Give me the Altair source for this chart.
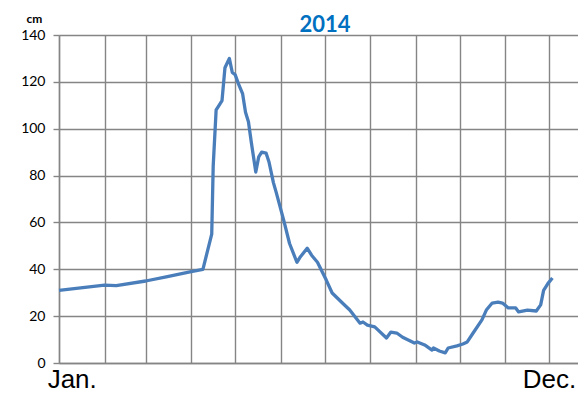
import altair as alt
import pandas as pd

dates = ["2014-01-01","2014-02-01","2014-02-09","2014-03-01","2014-03-15","2014-04-01","2014-04-09",
         "2014-04-15","2014-04-16","2014-04-18","2014-04-20","2014-04-22","2014-04-24","2014-04-27",
         "2014-04-29","2014-05-01","2014-05-03","2014-05-06","2014-05-08","2014-05-10","2014-05-12",
         "2014-05-15","2014-05-17","2014-05-19","2014-05-22","2014-05-24","2014-05-27","2014-05-29",
         "2014-06-03","2014-06-07","2014-06-12","2014-06-14","2014-06-19","2014-06-22","2014-06-26",
         "2014-07-02","2014-07-06","2014-07-13","2014-07-18","2014-07-25","2014-07-27","2014-07-30",
         "2014-08-04","2014-08-12","2014-08-15","2014-08-19","2014-08-23","2014-08-31","2014-09-02",
         "2014-09-07","2014-09-12","2014-09-13","2014-09-17","2014-09-21","2014-09-23","2014-09-29",
         "2014-10-03","2014-10-06","2014-10-10","2014-10-16","2014-10-19","2014-10-23","2014-10-27",
         "2014-10-30","2014-11-03","2014-11-08","2014-11-10","2014-11-16","2014-11-22","2014-11-25",
         "2014-11-27","2014-11-30","2014-12-03"]
values = [31, 33.2, 33, 35, 36.8, 39, 40,
          55, 84, 108, 110, 112, 126, 130,
          124, 123, 119.5, 115, 107, 103, 94,
          81.5, 88, 90, 89.6, 85.8, 77, 72.6,
          61, 51, 43, 45, 49, 46, 43,
          35.4, 29.9, 25.6, 22.6, 17, 17.5, 16.2,
          15.4, 10.7, 13.2, 12.8, 11, 8.5, 9,
          7.7, 5.5, 6.4, 5.1, 4.3, 6.4, 7.3,
          8.1, 9, 12.8, 18.4, 22.6, 25.6, 26,
          25.6, 23.5, 23.5, 21.8, 22.6, 22.2, 24.8,
          31, 34, 36.3]

label_dates = ["2014-01-10", "2014-12-01"]
label_texts = ["Jan.", "Dec."]
y_ticks = [0, 20, 40, 60, 80, 100, 120, 140]
title_text = "2014"

df = pd.DataFrame({"date": dates, "cm": values})
lab = pd.DataFrame({"date": label_dates, "t": label_texts})

grid = "#858585"
xscale = alt.Scale(type="utc",
                   domain=[alt.DateTime(year=2014, month=1, date=1, utc=True),
                           alt.DateTime(year=2014, month=12, date=20, hours=10, utc=True)])
month_ticks = [alt.DateTime(year=2014, month=m, date=1, utc=True) for m in range(1, 13)]

line = alt.Chart(df).mark_line(color="#4a7ebb", strokeWidth=3.3, strokeJoin="round").encode(
    x=alt.X("date:T", scale=xscale,
            axis=alt.Axis(values=month_ticks, labels=False, ticks=False, title=None,
                          grid=True, gridColor=grid, gridWidth=1.4, gridOpacity=1,
                          domain=True, domainColor=grid, domainWidth=1.4)),
    y=alt.Y("cm:Q", scale=alt.Scale(domain=[0, 140], nice=False),
            axis=alt.Axis(values=y_ticks, title="cm", titleAngle=0, titleX=-25, titleY=-13,
                          titleAlign="center", titleBaseline="alphabetic",
                          titleFont="Lato", titleFontSize=12, titleFontWeight="bold",
                          titleColor="#000000",
                          grid=True, gridColor=grid, gridWidth=1.4, gridOpacity=1,
                          domainColor=grid, domainWidth=1.4, tickColor=grid, tickSize=6,
                          tickWidth=1.4, labelFont="Lato", labelFontSize=14,
                          labelColor="#000000", labelPadding=8)),
)

text = alt.Chart(lab).mark_text(font="Liberation Sans", fontSize=26, align="center",
                                baseline="bottom", color="#000000").encode(
    x=alt.X("date:T", scale=xscale),
    y=alt.value(358),
    text="t:N",
)

title = alt.Chart(pd.DataFrame({"t": [title_text]})).mark_text(
    font="Lato", fontSize=22, fontWeight="bold", color="#0070C0",
    align="center", baseline="alphabetic").encode(
    x=alt.value(266), y=alt.value(-3.5), text="t:N")

chart = alt.layer(line, text, title).properties(
    width=519, height=328,
    autosize=alt.AutoSizeParams(type="none"),
    padding={"left": 51, "top": 27, "right": 0, "bottom": 31},
).configure_view(stroke=None)

chart.save("out.html", embed_options={"renderer": "svg", "actions": False})
